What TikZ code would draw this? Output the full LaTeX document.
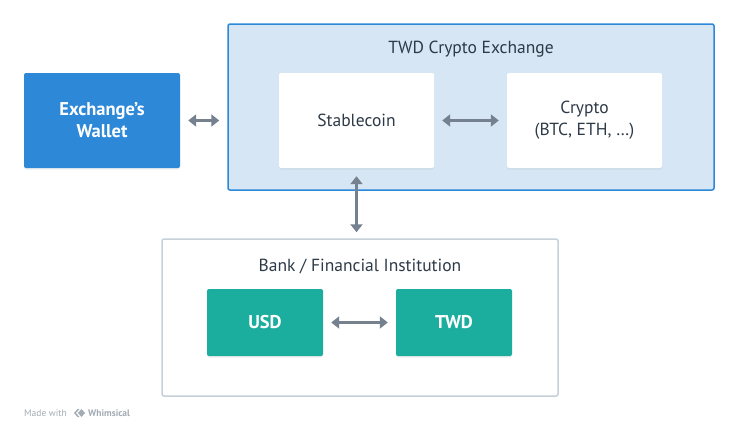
\documentclass[tikz,border=0pt]{standalone}
\usepackage{fontspec}
\setmainfont{PT Sans}
\usetikzlibrary{arrows.meta,shadows,calc}
\definecolor{wblue}{HTML}{2E88D8}
\definecolor{lblue}{HTML}{D6E6F5}
\definecolor{teal}{HTML}{1BAE9E}
\definecolor{agray}{HTML}{75818E}
\definecolor{bgray}{HTML}{C5D0DA}
\definecolor{tdark}{HTML}{2D3A47}
\definecolor{wm}{HTML}{A3ABB4}
\tikzset{
  x=1pt,y=-1pt,
  box/.style={rounded corners=2pt,inner sep=0pt,align=center,font=\fontsize{17.5}{22}\selectfont,
    drop shadow={shadow xshift=0pt,shadow yshift=-1.5pt,opacity=0.12}},
  bluebox/.style={box,fill=wblue,text=white,font=\fontsize{18.5}{22}\selectfont\bfseries},
  whitebox/.style={box,fill=white,text=tdark},
  tealbox/.style={box,fill=teal,text=white,font=\fontsize{18.5}{22}\selectfont\bfseries},
  container/.style={rounded corners=2pt,inner sep=0pt},
  title/.style={text=tdark,font=\fontsize{17.5}{20}\selectfont},
  link/.style={agray,line width=3.5pt,{Triangle[width=12pt,length=8pt]}-{Triangle[width=12pt,length=8pt]},shorten <=8pt,shorten >=8pt}
}
\begin{document}
\begin{tikzpicture}
\useasboundingbox[fill=white] (0,0) rectangle (738,432);
% containers
\node[container,draw=wblue,line width=1.5pt,fill=lblue,minimum width=486pt,minimum height=166pt] (ex) at (471,107) {};
\node[title] (extitle) at (471,49.5) {TWD Crypto Exchange};
\node[container,draw=bgray,line width=1.5pt,fill=white,minimum width=396pt,minimum height=157pt] (bank) at (360,317.5) {};
\node[title] (banktitle) at (360,266.5) {Bank / Financial Institution};
% boxes
\node[bluebox,minimum width=156pt,minimum height=95pt] (wallet) at (102,120.5) {Exchange’s\\Wallet};
\node[whitebox,minimum width=155pt,minimum height=95pt] (stable) at (356.5,120.5) {Stablecoin};
\node[whitebox,minimum width=155pt,minimum height=95pt] (crypto) at (584.5,120.5) {Crypto\\(BTC, ETH, …)};
\node[tealbox,minimum width=116pt,minimum height=67pt] (usd) at (265,322.5) {USD};
\node[tealbox,minimum width=116pt,minimum height=67pt] (twd) at (454,322.5) {TWD};
% connectors
\draw[link] (wallet.east) -- (ex.west |- wallet.east);
\draw[link] (stable) -- (crypto);
\draw[link,shorten >=6pt] (stable.south) -- (bank.north -| stable.south);
\draw[link] (usd) -- (twd);
% watermark
\node[text=wm,font=\fontsize{9.5}{10}\selectfont,anchor=west,inner sep=0pt] (made) at (24,413) {Made with};
\coordinate (logo) at (79,413);
\fill[wm] ($(logo)+(-5,0)$) -- ++(3.5,-4) -- ++(2,0) -- ++(-3.5,4) -- ++(3.5,4) -- ++(-2,0) -- cycle;
\fill[wm] ($(logo)+(-1,0)$) -- ++(3.5,-4) -- ++(3.5,4) -- ++(-3.5,4) -- cycle;
\node[text=wm,font=\fontsize{9.5}{10}\selectfont\bfseries,anchor=west,inner sep=0pt] (whim) at (88,413) {Whimsical};
\end{tikzpicture}
\end{document}
